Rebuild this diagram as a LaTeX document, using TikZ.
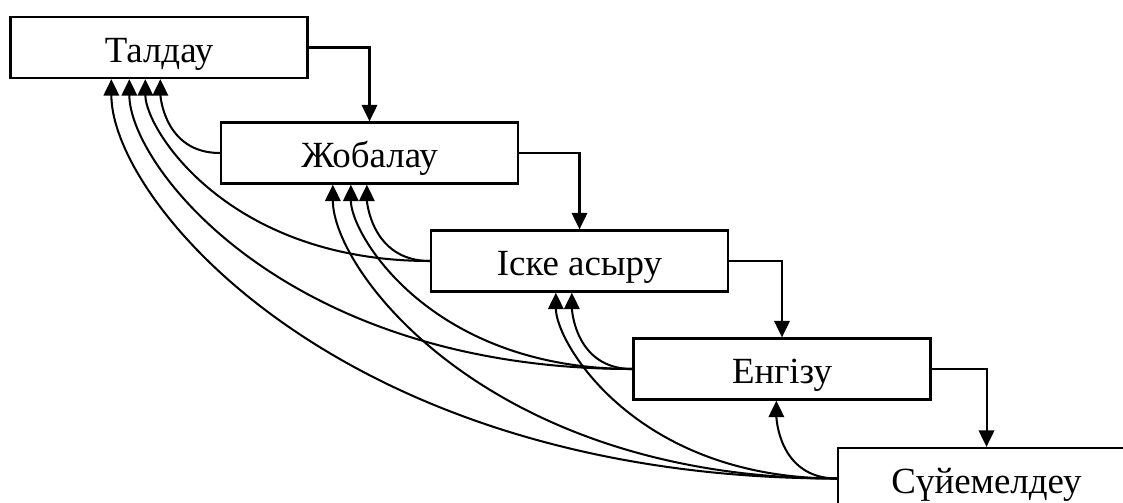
\documentclass[tikz,border=0pt]{standalone}
\usepackage{fontspec}
\setmainfont{Liberation Serif}
\usepackage{tikz}
\usetikzlibrary{arrows.meta}

\begin{document}
\begin{tikzpicture}[>={Triangle[length=0.33cm,width=0.31cm]},
		stage/.style={draw=black, line width=1.3pt, minimum width=5.94cm, minimum height=1.22cm, inner sep=0pt,
			font=\fontsize{21}{25}\selectfont, text height=22.3pt, text depth=5.3pt},
		back/.style={->, line width=1.15pt}]
		\clip (0,0) rectangle (22.46,-10.04);

		% Stages
		\node at (3.18,-0.95)   (taldau) [stage] {Талдау};
		\node at (7.39,-3.06)   (zhobalau) [stage] {Жобалау};
		\node at (11.59,-5.22)  (iske) [stage] {Іске асыру};
		\node at (15.64,-7.38)  (engizu) [stage] {Енгізу};
		\node at (19.73,-9.57)  (suyemeldeu) [stage] {Сүйемелдеу};

		% Forward arrows
		\draw [back] (taldau.east) -| (zhobalau.north);
		\draw [back] (zhobalau.east) -| (iske.north);
		\draw [back] (iske.east) -| (engizu.north);
		\draw [back] (engizu.east) -| (suyemeldeu.north);

		% Feedback arrows
		\foreach \src/\dst/\dx in {zhobalau/taldau/3.02, iske/taldau/2.72, engizu/taldau/2.40, suyemeldeu/taldau/2.04,
				iske/zhobalau/2.94, engizu/zhobalau/2.62, suyemeldeu/zhobalau/2.26,
				engizu/iske/2.84, suyemeldeu/iske/2.52,
				suyemeldeu/engizu/2.88}{
			\draw [back] (\src.west) to[out=180,in=-90,out looseness=1.53,in looseness=0.38] ([xshift=\dx cm]\dst.south west);
		}
	\end{tikzpicture}
\end{document}
